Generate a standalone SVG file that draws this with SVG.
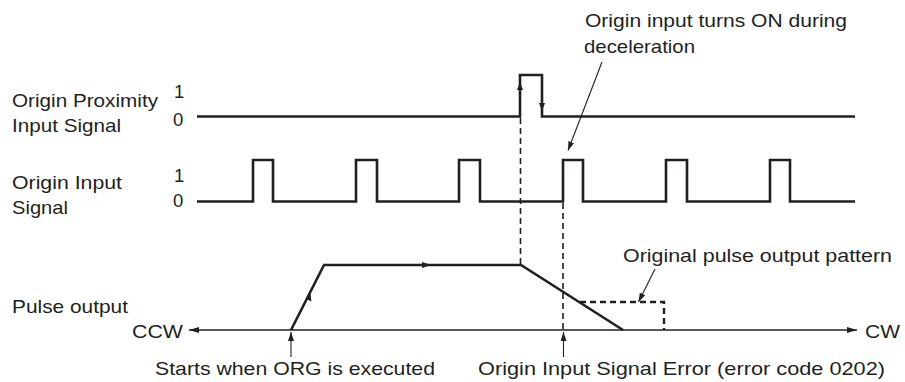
<svg xmlns="http://www.w3.org/2000/svg" width="905" height="382" viewBox="0 0 905 382">
<style>
text{font-family:"Liberation Sans",Arial,sans-serif;font-size:18.5px;fill:#231f20}
.thick{fill:none;stroke:#231f20;stroke-width:2.6;stroke-linejoin:miter}
.axis{fill:none;stroke:#231f20;stroke-width:1.4}
.thin{fill:none;stroke:#231f20;stroke-width:1.1}
.dash{fill:none;stroke:#231f20;stroke-width:1.6;stroke-dasharray:6 4}
.dashb{fill:none;stroke:#231f20;stroke-width:2.4;stroke-dasharray:6 4}
.head{fill:#231f20}
</style>
<defs>
<marker id="ah" viewBox="0 0 10 6" refX="10" refY="3" markerWidth="10" markerHeight="6" markerUnits="userSpaceOnUse" orient="auto">
<path d="M0,0 L10,3 L0,6 Z" class="head"/>
</marker>
<marker id="ahs" viewBox="0 0 9 6" refX="9" refY="3" markerWidth="9" markerHeight="6" markerUnits="userSpaceOnUse" orient="auto">
<path d="M0,0 L9,3 L0,6 Z" class="head"/>
</marker>
</defs>

<g id="labels">
<text x="12" y="107" textLength="146" lengthAdjust="spacingAndGlyphs">Origin Proximity</text>
<text x="12" y="131.5" textLength="109" lengthAdjust="spacingAndGlyphs">Input Signal</text>
<text x="174" y="98.3">1</text>
<text x="173" y="125.5">0</text>
<text x="12" y="189" textLength="110" lengthAdjust="spacingAndGlyphs">Origin Input</text>
<text x="12" y="213.5" textLength="56" lengthAdjust="spacingAndGlyphs">Signal</text>
<text x="174" y="181.7">1</text>
<text x="173" y="207">0</text>
<text x="12" y="313" textLength="116" lengthAdjust="spacingAndGlyphs">Pulse output</text>
<text x="132" y="337.5" textLength="51" lengthAdjust="spacingAndGlyphs">CCW</text>
<text x="865" y="337.5" textLength="35" lengthAdjust="spacingAndGlyphs">CW</text>
</g>

<g id="proximity-signal">
<polyline class="thick" points="197,116.5 520,116.5 520,75 542,75 542,116.5 855,116.5"/>
<path class="head" d="M520,82 L523,90 L517,90 Z"/>
<path class="head" d="M542,111 L545,103 L539,103 Z"/>
</g>

<g id="origin-signal">
<polyline class="thick" points="197,201.5 253,201.5 253,160 273,160 273,201.5 356,201.5 356,160 377,160 377,201.5 459,201.5 459,160 480,160 480,201.5 563,201.5 563,160 583,160 583,201.5 666,201.5 666,160 687,160 687,201.5 770,201.5 770,160 790,160 790,201.5 855,201.5"/>
</g>

<g id="pulse-output">
<polyline class="thick" points="291,330 324,265 521,265 623,330"/>
<path class="head" d="M310.5,292.5 L311.4,301.5 L305.9,298.7 Z"/>
<path class="head" d="M431,265 L422,268 L422,262 Z"/>
<polyline class="dashb" points="580,302 664,302 664,330"/>
</g>

<g id="connectors">
<line class="axis" x1="300" y1="330" x2="189" y2="330" marker-end="url(#ah)"/>
<line class="axis" x1="300" y1="330" x2="857" y2="330" marker-end="url(#ah)"/>
<line class="dash" x1="520.5" y1="118" x2="520.5" y2="265"/>
<line class="dash" x1="563" y1="203" x2="563" y2="330"/>
<line class="thin" x1="602" y1="62" x2="568" y2="150.5" marker-end="url(#ahs)"/>
<line class="thin" x1="655" y1="269" x2="638.5" y2="302" marker-end="url(#ahs)"/>
<line class="thin" x1="291" y1="357" x2="291" y2="332" marker-end="url(#ahs)"/>
<line class="thin" x1="563.5" y1="357" x2="563.5" y2="332" marker-end="url(#ahs)"/>
</g>

<g id="annotations">
<text x="585" y="26.5" textLength="262" lengthAdjust="spacingAndGlyphs">Origin input turns ON during</text>
<text x="584" y="53" textLength="111" lengthAdjust="spacingAndGlyphs">deceleration</text>
<text x="623" y="262" textLength="269" lengthAdjust="spacingAndGlyphs">Original pulse output pattern</text>
<text x="155" y="375" textLength="280" lengthAdjust="spacingAndGlyphs">Starts when ORG is executed</text>
<text x="478" y="375" textLength="407" lengthAdjust="spacingAndGlyphs">Origin Input Signal Error (error code 0202)</text>
</g>
</svg>
